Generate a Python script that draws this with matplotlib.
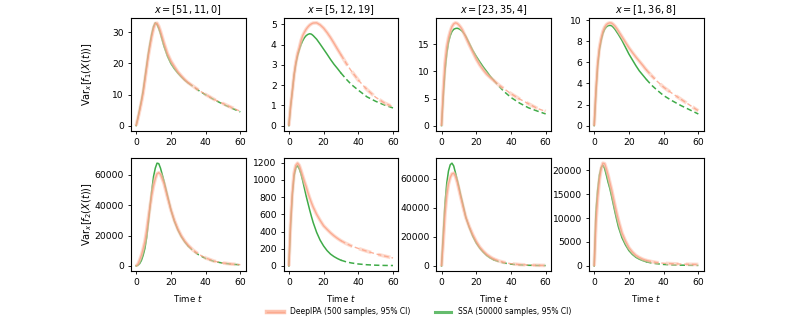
import numpy as np
import matplotlib
matplotlib.use("Agg")
import matplotlib.pyplot as plt
from matplotlib.lines import Line2D
from matplotlib.ticker import MultipleLocator

# time grid shared by all curves
t = [0, 1, 2, 3, 4, 5, 6, 7, 8, 9, 10, 11, 12, 13, 14, 16, 18, 20, 22, 24,
     26, 28, 30, 33, 36, 40, 45, 50, 55, 60]
t_split = 30  # solid up to here, dashed afterwards

titles = [r"$x = [51, 11, 0]$", r"$x = [5, 12, 19]$",
          r"$x = [23, 35, 4]$", r"$x = [1, 36, 8]$"]
ylabels = [r"Var$_x[f_1(X(t))]$", r"Var$_x[f_2(X(t))]$"]
ytick_steps = [[10, 1, 5, 2], [20000, 200, 20000, 5000]]

# row 1: Var[f1]
deepipa_f1_a = [0, 2.3, 4.8, 7.5, 10.5, 14.5, 18.5, 22.5, 25.8, 28.8, 31.3, 32.9, 33.0, 32.0, 30.4,
                26.6, 23.2, 20.8, 19.0, 17.3, 16.0, 14.8, 13.8, 12.6, 11.4, 10.0, 8.4, 7.1, 5.8, 4.6]
ssa_f1_a = [0, 2.5, 5.2, 8.0, 11.2, 15.2, 19.2, 23.2, 26.6, 29.6, 31.9, 33.1, 32.6, 31.3, 29.6,
            25.6, 22.4, 20.0, 18.3, 16.9, 15.7, 14.6, 13.7, 12.5, 11.3, 9.9, 8.3, 6.9, 5.6, 4.4]

deepipa_f1_b = [0, 0.95, 1.7, 2.5, 3.1, 3.55, 3.85, 4.2, 4.45, 4.62, 4.77, 4.88, 4.97, 5.03, 5.07,
                5.08, 4.98, 4.82, 4.6, 4.35, 4.07, 3.78, 3.5, 3.08, 2.7, 2.25, 1.78, 1.4, 1.12, 0.92]
ssa_f1_b = [0, 0.95, 1.7, 2.5, 3.05, 3.45, 3.75, 4.0, 4.2, 4.35, 4.45, 4.51, 4.54, 4.52, 4.45,
            4.27, 4.03, 3.78, 3.53, 3.27, 3.03, 2.82, 2.6, 2.3, 2.03, 1.75, 1.42, 1.2, 1.02, 0.87]

deepipa_f1_c = [0, 6.5, 11.6, 14.5, 16.2, 17.4, 18.3, 18.8, 19.0, 18.9, 18.6, 18.2, 17.7, 17.0, 16.3,
                14.9, 13.6, 12.3, 11.2, 10.3, 9.5, 8.9, 8.35, 7.5, 6.8, 5.9, 4.9, 4.05, 3.2, 2.6]
ssa_f1_c = [0, 5.5, 10.2, 13.3, 15.4, 16.6, 17.4, 17.8, 17.95, 18.0, 17.9, 17.7, 17.4, 17.0, 16.5,
            15.2, 13.9, 12.8, 11.8, 10.85, 10.0, 9.15, 8.4, 7.3, 6.3, 5.2, 4.15, 3.3, 2.7, 2.15]

deepipa_f1_d = [0, 3.3, 5.9, 7.4, 8.3, 8.95, 9.35, 9.6, 9.72, 9.77, 9.75, 9.62, 9.45, 9.22, 8.97,
                8.45, 7.92, 7.4, 6.95, 6.52, 6.12, 5.72, 5.3, 4.75, 4.25, 3.65, 3.05, 2.5, 1.95, 1.4]
ssa_f1_d = [0, 3.2, 5.7, 7.2, 8.1, 8.75, 9.15, 9.38, 9.5, 9.53, 9.5, 9.35, 9.15, 8.9, 8.65,
            8.1, 7.45, 6.8, 6.25, 5.7, 5.2, 4.8, 4.4, 3.85, 3.4, 2.85, 2.35, 1.9, 1.5, 1.1]

# row 2: Var[f2]
deepipa_f2_a = [0, 1200, 3800, 7000, 11200, 16000, 23000, 31500, 39500, 47000, 53000, 57500, 60800,
                61500, 60500, 54500, 45500, 37000, 30000, 24300, 19800, 16300, 13500, 10200, 7700,
                5200, 3100, 1900, 1200, 800]
ssa_f2_a = [0, 400, 1500, 3600, 7000, 11500, 18500, 28500, 39500, 50000, 59000, 64500, 67800,
            67500, 64500, 56000, 46500, 37000, 29500, 23800, 19300, 15800, 13000, 9800, 7300,
            4900, 2900, 1800, 1100, 700]

deepipa_f2_b = [0, 500, 850, 1080, 1170, 1196, 1170, 1110, 1045, 980, 920, 850, 790, 735, 685,
                600, 530, 467, 425, 385, 350, 320, 293, 260, 232, 203, 170, 140, 115, 92]
ssa_f2_b = [0, 480, 830, 1050, 1140, 1168, 1130, 1070, 990, 900, 810, 730, 650, 575, 505,
            390, 300, 232, 178, 137, 108, 85, 66, 47, 34, 22, 13, 8, 5, 4]

deepipa_f2_c = [0, 17000, 36000, 48500, 56500, 61000, 63500, 64000, 61800, 58000, 53000, 47800,
                42800, 38000, 33500, 27000, 21500, 16800, 13000, 10200, 7900, 6200, 4800, 3400,
                2400, 1500, 900, 600, 400, 300]
ssa_f2_c = [0, 22000, 43000, 57000, 65500, 69800, 70900, 69000, 64300, 59500, 54500, 49000,
            44000, 38800, 33500, 26500, 20500, 15800, 12300, 9500, 7200, 5500, 4200, 2900,
            2000, 1200, 700, 400, 300, 200]

deepipa_f2_d = [0, 9000, 14300, 18000, 20300, 21500, 21400, 20300, 19000, 17500, 16000, 14300,
                12600, 11000, 9500, 6900, 5200, 3800, 2900, 2200, 1750, 1400, 1150, 900, 700,
                550, 450, 380, 330, 300]
ssa_f2_d = [0, 11300, 15900, 19000, 20600, 21100, 20400, 19000, 17500, 16200, 14600, 12900,
            11200, 9600, 8100, 5900, 4400, 3200, 2400, 1800, 1400, 1100, 850, 600, 450,
            300, 200, 150, 120, 100]

deepipa = [[deepipa_f1_a, deepipa_f1_b, deepipa_f1_c, deepipa_f1_d],
           [deepipa_f2_a, deepipa_f2_b, deepipa_f2_c, deepipa_f2_d]]
ssa = [[ssa_f1_a, ssa_f1_b, ssa_f1_c, ssa_f1_d],
       [ssa_f2_a, ssa_f2_b, ssa_f2_c, ssa_f2_d]]

orange = "#fb9f83"
orange_band = "#fdc4b0"
green = "#3fab48"

plt.rcParams["font.size"] = 6.6
plt.rcParams["axes.linewidth"] = 0.8
plt.rcParams["xtick.major.size"] = 2.5
plt.rcParams["ytick.major.size"] = 2.5
plt.rcParams["xtick.major.width"] = 0.6
plt.rcParams["ytick.major.width"] = 0.6
plt.rcParams["xtick.major.pad"] = 2.5
plt.rcParams["ytick.major.pad"] = 2.5

fig, axs = plt.subplots(2, 4, figsize=(7.92, 3.2), dpi=100)
fig.subplots_adjust(left=0.1654, right=0.8883, top=0.9447, bottom=0.1531,
                    wspace=0.333, hspace=0.242)

tt = np.array(t)
solid = tt <= t_split
dashed = tt >= t_split

for r in range(2):
    for c in range(4):
        ax = axs[r, c]
        y_ssa = np.array(ssa[r][c])
        y_dpa = np.array(deepipa[r][c])

        # SSA
        ax.plot(tt[solid], y_ssa[solid], color=green, lw=1.1)
        ax.plot(tt[dashed], y_ssa[dashed], color=green, lw=1.1, ls=(0, (3.5, 2)))

        # DeepIPA: light band + line
        ax.plot(tt[solid], y_dpa[solid], color=orange_band, lw=2.6, alpha=0.6, solid_capstyle="butt")
        ax.plot(tt[dashed], y_dpa[dashed], color=orange_band, lw=2.6, alpha=0.6, ls=(0, (3.5, 2)))
        ax.plot(tt[solid], y_dpa[solid], color=orange, lw=1.0, alpha=0.8)
        ax.plot(tt[dashed], y_dpa[dashed], color=orange, lw=1.0, alpha=0.8, ls=(0, (3.5, 2)))

        ax.set_xticks([0, 20, 40, 60])
        ax.yaxis.set_major_locator(MultipleLocator(ytick_steps[r][c]))
        if r == 0:
            ax.set_title(titles[c], fontsize=7, pad=3)
        else:
            ax.set_xlabel(r"Time $t$", fontsize=6.2)
        if c == 0:
            ax.set_ylabel(ylabels[r], fontsize=7, labelpad=0.5)

fig.align_ylabels(axs[:, 0])

handles = [(Line2D([], [], color=orange_band, lw=3.2), Line2D([], [], color=orange, lw=1.0, alpha=0.7)),
           Line2D([], [], color=green, lw=2.2, alpha=0.8)]
fig.legend(handles, ["DeepIPA (500 samples, 95% CI)", "SSA (50000 samples, 95% CI)"],
           loc="lower center", bbox_to_anchor=(0.529, -0.01), ncol=2, frameon=False,
           fontsize=5.5, handlelength=2.2, columnspacing=3.2)

fig.savefig("out.png", dpi=100)
